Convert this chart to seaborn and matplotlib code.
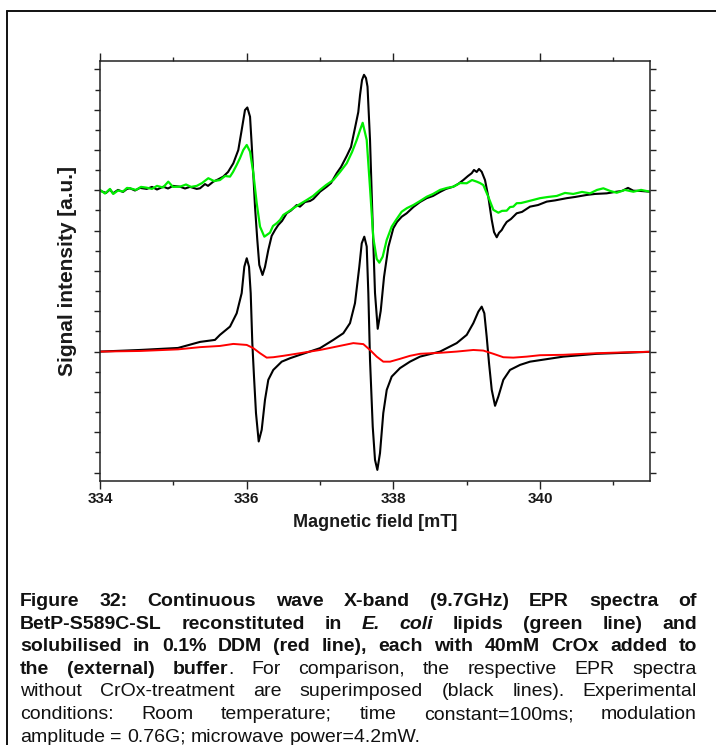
import numpy as np
import pandas as pd
import matplotlib
matplotlib.use("Agg")
import matplotlib.pyplot as plt
import seaborn as sns
from matplotlib.lines import Line2D

# ---------------- data (field in mT, intensity in a.u.) ----------------
ddm_field = [334.000, 334.545, 335.064, 335.364, 335.568, 335.636, 335.773, 335.864, 335.932, 335.968,
             336.001, 336.032, 336.055, 336.077, 336.100, 336.127, 336.164, 336.205, 336.250, 336.295,
             336.363, 336.478, 336.591, 336.727, 337.000, 337.182, 337.318, 337.409, 337.477, 337.536,
             337.569, 337.604, 337.637, 337.659, 337.682, 337.719, 337.750, 337.782, 337.818, 337.863,
             337.910, 337.978, 338.091, 338.227, 338.364, 338.637, 338.864, 339.001, 339.091, 339.159,
             339.205, 339.241, 339.273, 339.305, 339.342, 339.387, 339.432, 339.500, 339.591, 339.728,
             339.864, 340.318, 340.773, 341.228, 341.500]
ddm_black = [0.00, 0.08, 0.18, 0.48, 0.58, 0.83, 1.24, 1.90, 2.90, 4.21,
             4.63, 4.21, 2.90, 0.42, -1.24, -3.05, -4.46, -3.88, -2.39, -1.40,
             -0.91, -0.50, -0.33, -0.16, 0.17, 0.58, 0.91, 1.41, 2.40, 4.21,
             5.37, 5.70, 5.21, 2.90, -0.41, -3.72, -5.37, -5.87, -5.04, -3.05,
             -1.90, -1.24, -0.82, -0.50, -0.25, 0.00, 0.42, 0.83, 1.41, 1.98,
             2.23, 1.90, 0.74, -0.58, -1.90, -2.69, -2.23, -1.40, -0.91, -0.66,
             -0.50, -0.25, -0.11, -0.05, -0.01]

red_field = [334.000, 334.545, 335.064, 335.364, 335.636, 335.818, 336.001, 336.091, 336.182, 336.273,
             336.363, 336.500, 336.727, 337.000, 337.228, 337.454, 337.591, 337.682, 337.773, 337.863,
             337.955, 338.091, 338.227, 338.364, 338.637, 338.864, 339.091, 339.227, 339.364, 339.500,
             339.636, 339.819, 340.000, 340.318, 340.773, 341.228, 341.500]
ddm_red = [0.00, 0.03, 0.11, 0.22, 0.28, 0.38, 0.33, 0.17, -0.08, -0.30,
           -0.28, -0.21, -0.08, 0.08, 0.25, 0.42, 0.37, 0.08, -0.25, -0.50,
           -0.50, -0.36, -0.21, -0.11, -0.06, 0.00, 0.08, 0.05, -0.11, -0.28,
           -0.30, -0.25, -0.18, -0.16, -0.08, -0.03, -0.01]

lip_field = [334.000, 334.082, 334.136, 334.177, 334.245, 334.314, 334.368, 334.409, 334.477, 334.545,
             334.637, 334.709, 334.777, 334.863, 334.927, 334.995, 335.091, 335.159, 335.227, 335.319,
             335.364, 335.432, 335.473, 335.545, 335.609, 335.681, 335.746, 335.818, 335.886, 335.932,
             335.977, 336.009, 336.046, 336.069, 336.091, 336.114, 336.145, 336.172, 336.216, 336.250,
             336.295, 336.341, 336.386, 336.431, 336.482, 336.546, 336.605, 336.682, 336.727, 336.796,
             336.864, 336.909, 336.973, 337.000, 337.092, 337.150, 337.228, 337.287, 337.364, 337.423,
             337.477, 337.522, 337.546, 337.573, 337.600, 337.627, 337.648, 337.682, 337.719, 337.750,
             337.787, 337.828, 337.873, 337.932, 338.000, 338.050, 338.114, 338.182, 338.273, 338.364,
             338.455, 338.541, 338.637, 338.718, 338.818, 338.882, 338.954, 339.018, 339.069, 339.100,
             339.137, 339.168, 339.205, 339.250, 339.295, 339.342, 339.373, 339.410, 339.441, 339.478,
             339.509, 339.546, 339.605, 339.682, 339.755, 339.864, 339.973, 340.092, 340.205, 340.364,
             340.478, 340.637, 340.750, 340.910, 341.023, 341.119, 341.200, 341.273, 341.364, 341.500]
lip_black = [7.98, 7.87, 8.04, 7.85, 8.02, 7.92, 8.07, 8.10, 7.99, 8.12,
             8.07, 8.17, 8.04, 8.18, 8.09, 8.22, 8.18, 8.09, 8.17, 8.07,
             8.10, 8.31, 8.22, 8.43, 8.54, 8.68, 8.91, 9.34, 10.00, 10.99,
             11.98, 12.11, 11.65, 10.25, 8.76, 7.17, 5.54, 4.30, 3.80, 4.20,
             5.04, 5.74, 6.03, 6.28, 6.48, 6.86, 7.00, 7.27, 7.19, 7.42,
             7.47, 7.57, 7.82, 7.93, 8.18, 8.36, 8.85, 9.16, 9.70, 10.15,
             11.09, 11.88, 12.73, 13.47, 13.73, 13.57, 13.14, 10.50, 6.23, 2.91,
             1.13, 2.02, 3.70, 5.19, 6.12, 6.43, 6.69, 6.86, 7.17, 7.42,
             7.61, 7.72, 7.92, 8.07, 8.18, 8.31, 8.51, 8.71, 8.85, 9.01,
             8.91, 9.06, 8.92, 8.51, 7.68, 6.53, 5.93, 5.67, 5.89, 6.03,
             6.23, 6.43, 6.58, 6.86, 6.93, 7.19, 7.27, 7.44, 7.50, 7.61,
             7.67, 7.77, 7.82, 7.85, 7.92, 7.97, 8.12, 7.98, 7.97, 7.93]

crox_field = [334.000, 334.068, 334.136, 334.181, 334.245, 334.314, 334.368, 334.409, 334.491, 334.559,
              334.637, 334.709, 334.777, 334.859, 334.931, 334.995, 335.091, 335.173, 335.241, 335.319,
              335.391, 335.477, 335.555, 335.636, 335.705, 335.773, 335.814, 335.864, 335.909, 335.954,
              336.001, 336.046, 336.091, 336.137, 336.182, 336.241, 336.318, 336.359, 336.410, 336.455,
              336.500, 336.564, 336.636, 336.727, 336.819, 336.905, 337.000, 337.082, 337.182, 337.273,
              337.364, 337.437, 337.501, 337.546, 337.582, 337.637, 337.682, 337.727, 337.773, 337.809,
              337.855, 337.910, 337.978, 338.037, 338.114, 338.187, 338.273, 338.364, 338.455, 338.541,
              338.637, 338.732, 338.818, 338.909, 339.001, 339.073, 339.137, 339.182, 339.227, 339.295,
              339.364, 339.432, 339.482, 339.546, 339.591, 339.636, 339.682, 339.741, 339.819, 339.905,
              340.000, 340.109, 340.228, 340.341, 340.454, 340.573, 340.682, 340.778, 340.864, 340.955,
              341.046, 341.159, 341.273, 341.378, 341.500]
lip_green = [8.02, 7.84, 8.07, 7.82, 7.99, 7.94, 8.12, 8.10, 8.02, 8.17,
             8.13, 8.07, 8.22, 8.14, 8.43, 8.17, 8.18, 8.29, 8.17, 8.22,
             8.36, 8.60, 8.46, 8.51, 8.71, 8.68, 8.91, 9.26, 9.60, 10.00,
             10.25, 9.92, 8.85, 7.36, 6.20, 5.70, 5.90, 6.23, 6.37, 6.53,
             6.78, 6.93, 7.11, 7.32, 7.52, 7.72, 8.02, 8.26, 8.51, 8.91,
             9.34, 9.90, 10.50, 10.99, 11.35, 10.50, 8.12, 5.64, 4.60, 4.41,
             4.71, 5.54, 6.20, 6.53, 6.94, 7.12, 7.27, 7.47, 7.68, 7.82,
             8.02, 8.12, 8.18, 8.36, 8.35, 8.51, 8.43, 8.36, 8.26, 7.68,
             7.03, 6.89, 6.98, 6.99, 7.17, 7.19, 7.36, 7.37, 7.44, 7.52,
             7.61, 7.67, 7.72, 7.87, 7.82, 7.92, 7.85, 8.02, 8.10, 7.97,
             7.88, 8.02, 7.93, 8.02, 7.93]

x_major_ticks = [334, 336, 338, 340]
x_tick_labels = ["334", "336", "338", "340"]

xlabel_text = "Magnetic field [mT]"
ylabel_text = "Signal intensity [a.u.]"

caption_lines = [
    [[("Figure", "b")], [("32:", "b")], [("Continuous", "b")], [("wave", "b")], [("X-band", "b")],
     [("(9.7GHz)", "b")], [("EPR", "b")], [("spectra", "b")], [("of", "b")]],
    [[("BetP-S589C-SL", "b")], [("reconstituted", "b")], [("in", "b")], [("E.", "bi")], [("coli", "bi")],
     [("lipids", "b")], [("(green", "b")], [("line)", "b")], [("and", "b")]],
    [[("solubilised", "b")], [("in", "b")], [("0.1%", "b")], [("DDM", "b")], [("(red", "b")], [("line),", "b")],
     [("each", "b")], [("with", "b")], [("40mM", "b")], [("CrOx", "b")], [("added", "b")], [("to", "b")]],
    [[("the", "b")], [("(external)", "b")], [("buffer", "b"), (".", "r")], [("For", "r")], [("comparison,", "r")],
     [("the", "r")], [("respective", "r")], [("EPR", "r")], [("spectra", "r")]],
    [[("without", "r")], [("CrOx-treatment", "r")], [("are", "r")], [("superimposed", "r")], [("(black", "r")],
     [("lines).", "r")], [("Experimental", "r")]],
    [[("conditions:", "r")], [("Room", "r")], [("temperature;", "r")], [("time", "r")],
     [("constant=100ms;", "r")], [("modulation", "r")]],
    [[("amplitude", "r")], [("=", "r")], [("0.76G;", "r")], [("microwave", "r")], [("power=4.2mW.", "r")]],
]

# ---------------- styling ----------------
sns.set_style("ticks")
plt.rcParams["font.family"] = ["Liberation Sans", "DejaVu Sans"]
plt.rcParams["axes.linewidth"] = 1.1

W, H = 716, 745
fig = plt.figure(figsize=(W / 100, H / 100), dpi=100)
fig.patch.set_facecolor("white")

ax_l, ax_r, ax_t, ax_b = 100, 650, 60.7, 481
ax = fig.add_axes([ax_l / W, 1 - ax_b / H, (ax_r - ax_l) / W, (ax_b - ax_t) / H])
ax.set_facecolor("white")

sns.lineplot(x=ddm_field, y=ddm_black, ax=ax, color="black", lw=1.5, sort=False, estimator=None)
sns.lineplot(x=red_field, y=ddm_red, ax=ax, color="#ff0000", lw=1.4, sort=False, estimator=None)
sns.lineplot(x=lip_field, y=lip_black, ax=ax, color="black", lw=1.5, sort=False, estimator=None)
sns.lineplot(x=crox_field, y=lip_green, ax=ax, color="#00ee00", lw=1.6, sort=False, estimator=None)

ax.set_xlim(334, 341.5)
ax.set_ylim(-6.42, 14.43)
ax.set_xticks(x_major_ticks)
ax.set_xticklabels(x_tick_labels, fontsize=11, fontweight="bold")
ax.set_xticks(np.arange(335, 342, 2), minor=True)
ax.set_yticks(np.arange(-6, 15, 2))
ax.set_yticks(np.arange(-5, 15, 2), minor=True)
ax.set_yticklabels([])
for s in ["top", "right", "left", "bottom"]:
    ax.spines[s].set_visible(True)
    ax.spines[s].set_color("#222222")
ax.tick_params(axis="both", which="both", direction="out", top=True, right=True,
               color="#222222", width=1.0)
ax.tick_params(axis="x", which="major", length=5.5, pad=2.5, labelcolor="#1a1a1a")
ax.tick_params(axis="x", which="minor", length=3)
ax.tick_params(axis="y", which="major", length=4.5)
ax.tick_params(axis="y", which="minor", length=3.5)

ax.set_xlabel(xlabel_text, fontsize=13, fontweight="bold", color="#1a1a1a")
ax.xaxis.set_label_coords(0.5, -0.078)
ax.set_ylabel(ylabel_text, fontsize=15, fontweight="bold", color="#1a1a1a")
ax.yaxis.set_label_coords(-0.042, 0.5)

# ---------------- outer frame (clipped at right/bottom) ----------------
fx0, fy0 = 7.5, 10.5
fig.add_artist(Line2D([fx0 / W, 1.0], [1 - fy0 / H, 1 - fy0 / H], transform=fig.transFigure,
                      color="#111111", lw=1.4))
fig.add_artist(Line2D([fx0 / W, fx0 / W], [1 - fy0 / H, 0.0], transform=fig.transFigure,
                      color="#111111", lw=1.4))

# ---------------- justified caption ----------------
cap_family = ["Liberation Sans", "DejaVu Sans"]
cap_size = 14.0

fig.canvas.draw()
renderer = fig.canvas.get_renderer()


def props(code, size):
    return dict(family=cap_family, fontsize=size,
                fontweight="bold" if "b" in code else "normal",
                fontstyle="italic" if "i" in code else "normal",
                color="#111111")


def seg_w(text, code, size):
    t = fig.text(0, 0, text, **props(code, size))
    w = t.get_window_extent(renderer).width
    t.remove()
    return w


left_x, right_x = 20.0, 697.0
avail = right_x - left_x
size = cap_size
for _ in range(12):
    worst = 0
    sp = seg_w("a a", "r", size) - 2 * seg_w("a", "r", size)
    for line in caption_lines[:-1]:
        tot = sum(seg_w(s, c, size) for word in line for (s, c) in word)
        worst = max(worst, (tot + 0.6 * sp * (len(line) - 1)) / avail)
    if worst <= 1.0:
        break
    size *= 0.985

base0, step = 606.0, 22.6
for i, line in enumerate(caption_lines):
    widths = [[seg_w(s, c, size) for (s, c) in word] for word in line]
    word_w = [sum(ws) for ws in widths]
    if i < len(caption_lines) - 1:
        gap = (avail - sum(word_w)) / (len(line) - 1)
    else:
        gap = seg_w("a a", "r", size) - 2 * seg_w("a", "r", size)
    x = left_x
    y = base0 + i * step
    for word, ws in zip(line, widths):
        xx = x
        for (s, c), w in zip(word, ws):
            fig.text(xx / W, 1 - y / H, s, ha="left", va="baseline", **props(c, size))
            xx += w
        x += sum(ws) + gap

fig.savefig("out.png", dpi=100, facecolor="white")
